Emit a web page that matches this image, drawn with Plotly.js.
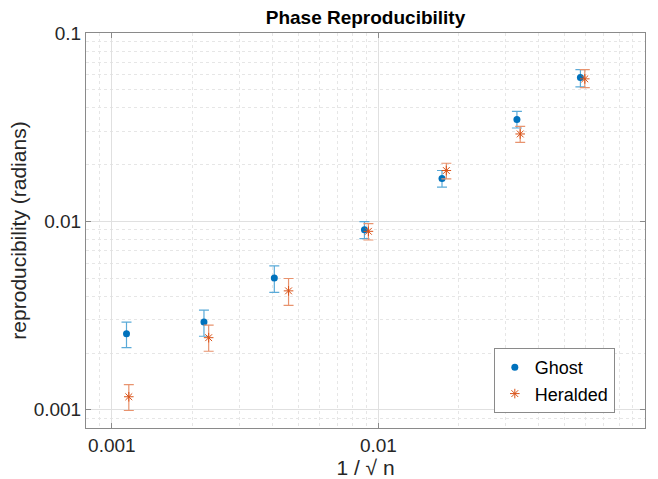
<!DOCTYPE html>
<html>
<head>
<meta charset="utf-8">
<script src="https://cdn.plot.ly/plotly-3.0.1.min.js"></script>
<style>html,body{margin:0;padding:0;background:#fff;}#chart{width:658px;height:479px;}</style>
</head>
<body>
<div id="chart"></div>
<script>
// Ghost series
var ghostX = [0.001135, 0.002216, 0.004069, 0.008863, 0.01732, 0.03308, 0.05724];
var ghostY = [0.002533, 0.002921, 0.005012, 0.009040, 0.01688, 0.03478, 0.05802];
var ghostTop = [0.002921, 0.003381, 0.005801, 0.009964, 0.01862, 0.03835, 0.06394];
var ghostBottom = [0.002136, 0.002455, 0.004195, 0.008101, 0.01519, 0.03131, 0.05179];
// Heralded series
var heraldX = [0.001158, 0.002308, 0.004602, 0.009173, 0.01798, 0.03403, 0.05945];
var heraldY = [0.001172, 0.002413, 0.004277, 0.008855, 0.01862, 0.02911, 0.05709];
var heraldTop = [0.001361, 0.002816, 0.004975, 0.009723, 0.02035, 0.03192, 0.06394];
var heraldBottom = [0.000991, 0.002044, 0.003581, 0.007964, 0.01682, 0.02628, 0.05135];
// tick labels
var tickValues = [0.001, 0.01, 0.1];
var tickLabels = ['0.001', '0.01', '0.1'];
var minorValues = [0.0008, 0.0009, 0.002, 0.003, 0.004, 0.005, 0.006, 0.007, 0.008, 0.009,
  0.02, 0.03, 0.04, 0.05, 0.06, 0.07, 0.08, 0.09];

function diff(a, b) { return a.map(function (v, i) { return v - b[i]; }); }

var FONT = 'Liberation Sans, Arial, sans-serif';

var traces = [
  {
    x: ghostX, y: ghostY, name: 'Ghost', type: 'scatter', mode: 'markers',
    marker: {color: '#0072BD', size: 7, symbol: 'circle'},
    error_y: {type: 'data', symmetric: false, array: diff(ghostTop, ghostY), arrayminus: diff(ghostY, ghostBottom),
      color: '#5AAAD8', thickness: 1.2, width: 5}
  },
  {
    x: heraldX, y: heraldY, name: 'Heralded', type: 'scatter', mode: 'markers',
    marker: {color: '#D95319', size: 8, symbol: 'asterisk-open', line: {color: '#D95319', width: 1}},
    error_y: {type: 'data', symmetric: false, array: diff(heraldTop, heraldY), arrayminus: diff(heraldY, heraldBottom),
      color: '#E8936E', thickness: 1.2, width: 5}
  }
];

var axisCommon = {
  type: 'log',
  tickmode: 'array', tickvals: tickValues, ticktext: tickLabels,
  showgrid: true, gridcolor: '#e0e0e0', gridwidth: 1,
  showline: true, mirror: 'allticks', linecolor: '#8a8a8a', linewidth: 1,
  ticks: 'inside', ticklen: 5, tickcolor: '#8a8a8a',
  tickfont: {family: FONT, size: 19, color: '#262626'},
  zeroline: false,
  minor: {tickmode: 'array', tickvals: minorValues, showgrid: true, gridcolor: '#e6e6e6', griddash: 'dot', gridwidth: 1, ticks: ''}
};

var layout = {
  width: 658, height: 479,
  margin: {l: 86, r: 13, t: 33, b: 51},
  paper_bgcolor: '#ffffff', plot_bgcolor: '#ffffff',
  showlegend: true,
  title: {text: 'Phase Reproducibility', font: {family: FONT, size: 19, color: '#000', weight: 'bold'},
    x: 0.5, xref: 'paper', y: 1, yref: 'paper', yanchor: 'bottom', pad: {b: 9}},
  xaxis: Object.assign({}, axisCommon, {
    range: [Math.log10(0.0008), Math.log10(0.1)],
    title: {text: '1 / √ n', font: {family: FONT, size: 21, color: '#262626'}, standoff: 2}
  }),
  yaxis: Object.assign({}, axisCommon, {
    range: [Math.log10(0.0008), Math.log10(0.1)],
    title: {text: 'reproducibility (radians)', font: {family: FONT, size: 21, color: '#262626'}, standoff: 1}
  }),
  legend: {x: 0.946, y: 0.038, xanchor: 'right', yanchor: 'bottom', bgcolor: '#ffffff', bordercolor: '#8a8a8a', borderwidth: 1,
    font: {family: FONT, size: 18, color: '#000'}, tracegroupgap: 6}
};

Plotly.newPlot('chart', traces, layout, {displayModeBar: false, staticPlot: true});
</script>
</body>
</html>
